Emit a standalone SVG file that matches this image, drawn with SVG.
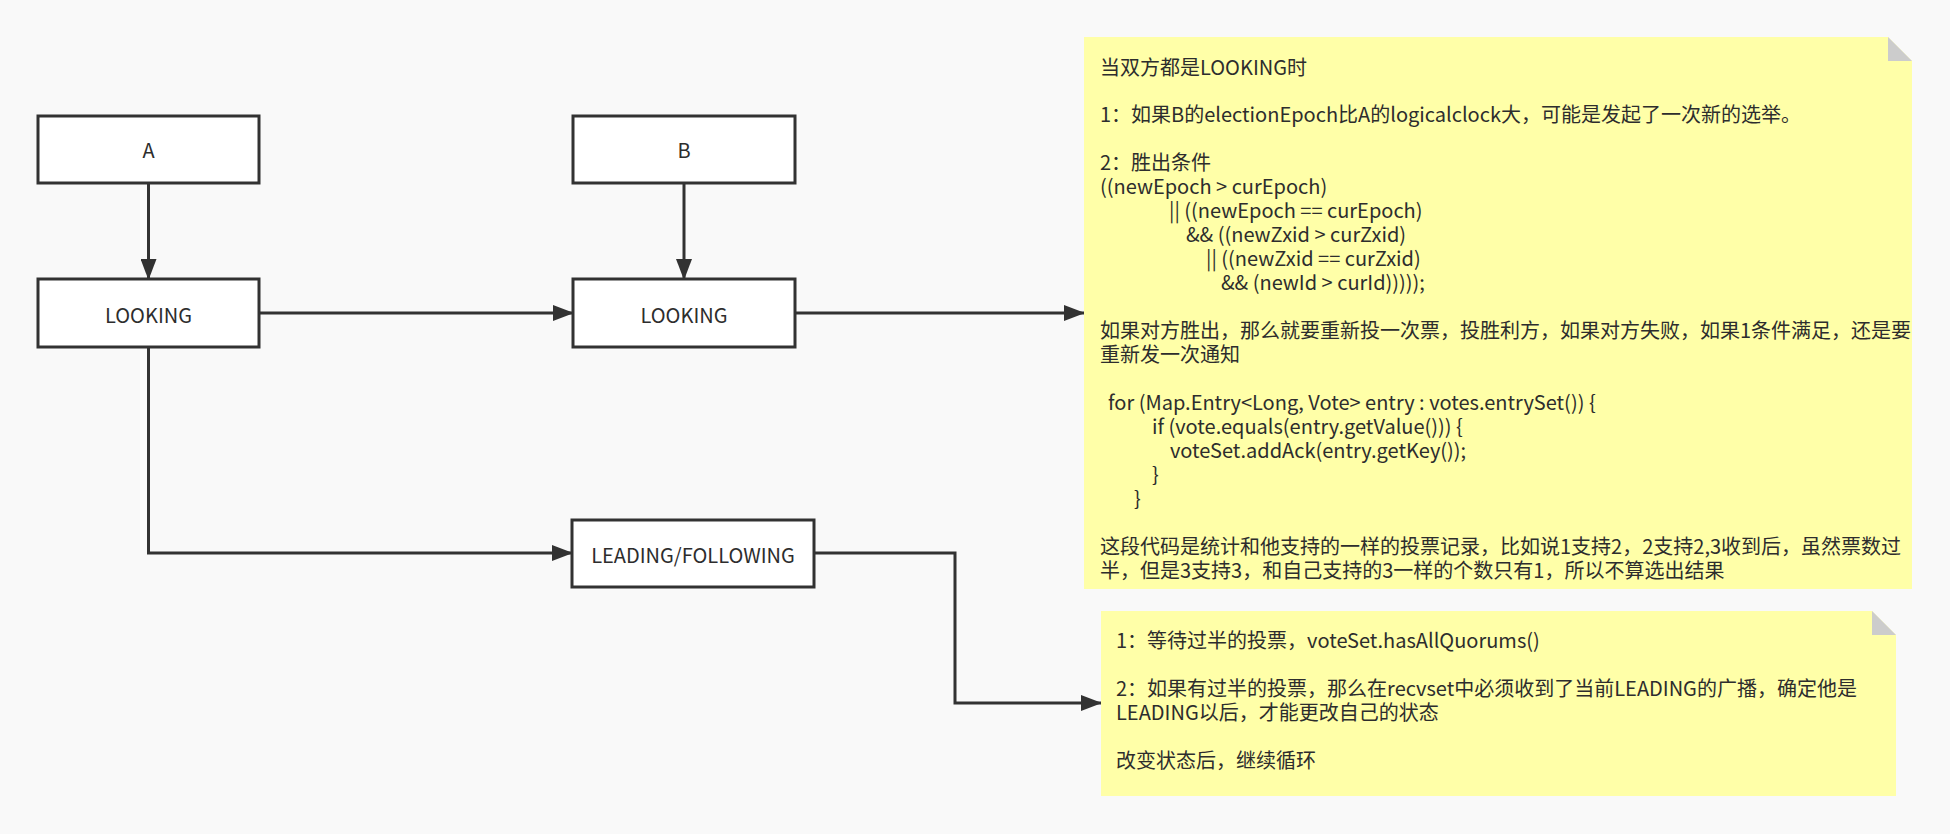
<svg xmlns="http://www.w3.org/2000/svg" width="1950" height="834" viewBox="0 0 1950 834">
<defs>
<marker id="arr" markerWidth="21" markerHeight="16" refX="20" refY="8" orient="auto" markerUnits="userSpaceOnUse">
<path d="M0,0 L21,8 L0,16 Z" fill="#323232"/>
</marker>
<style>
.box{fill:#ffffff;stroke:#323232;stroke-width:3}
.lbl{font-family:"Noto Sans CJK SC","Noto Sans",sans-serif;font-size:20px;fill:#2d2d2d;text-anchor:middle}
.note{fill:#ffffa8}
.fold{fill:#cccccc}
.nt{font-family:"Noto Sans CJK SC","Noto Sans",sans-serif;font-size:20px;fill:#2d2d2d}
.con{fill:none;stroke:#323232;stroke-width:3}
</style>
</defs>
<rect x="0" y="0" width="1950" height="834" fill="#f9f9f9"/>
<g id="connectors">
<path class="con" d="M148.5,183 L148.5,279" marker-end="url(#arr)"/>
<path class="con" d="M684,183 L684,279" marker-end="url(#arr)"/>
<path class="con" d="M259,313 L573,313" marker-end="url(#arr)"/>
<path class="con" d="M795,313 L1084,313" marker-end="url(#arr)"/>
<path class="con" d="M148.5,347 L148.5,553 L572,553" marker-end="url(#arr)"/>
<path class="con" d="M814,553 L955,553 L955,703 L1101,703" marker-end="url(#arr)"/>
</g>
<g id="nodeA">
<rect class="box" x="38" y="116" width="221" height="67"/>
<text class="lbl" x="148.5" y="157.5">A</text>
</g>
<g id="nodeB">
<rect class="box" x="573" y="116" width="222" height="67"/>
<text class="lbl" x="684" y="157.5">B</text>
</g>
<g id="lookingA">
<rect class="box" x="38" y="279" width="221" height="68"/>
<text class="lbl" x="148.5" y="322.5">LOOKING</text>
</g>
<g id="lookingB">
<rect class="box" x="573" y="279" width="222" height="68"/>
<text class="lbl" x="684" y="322.5">LOOKING</text>
</g>
<g id="leading">
<rect class="box" x="572" y="520" width="242" height="67"/>
<text class="lbl" x="693" y="562.5">LEADING/FOLLOWING</text>
</g>
<g id="note1">
<path class="note" d="M1084,37 L1888,37 L1912,61 L1912,589 L1084,589 Z"/>
<path class="fold" d="M1888,37 L1912,61 L1888,61 Z"/>
<text class="nt" x="1100" y="74.5">当双方都是LOOKING时</text>
<text class="nt" x="1100" y="122">1：如果B的electionEpoch比A的logicalclock大，可能是发起了一次新的选举。</text>
<text class="nt" x="1100" y="170">2：胜出条件</text>
<text class="nt" x="1100" y="194">((newEpoch &gt; curEpoch)</text>
<text class="nt" x="1169" y="218">|| ((newEpoch == curEpoch)</text>
<text class="nt" x="1186" y="242">&amp;&amp; ((newZxid &gt; curZxid)</text>
<text class="nt" x="1206" y="266">|| ((newZxid == curZxid)</text>
<text class="nt" x="1221" y="290">&amp;&amp; (newId &gt; curId)))));</text>
<text class="nt" x="1100" y="338">如果对方胜出，那么就要重新投一次票，投胜利方，如果对方失败，如果1条件满足，还是要</text>
<text class="nt" x="1100" y="362">重新发一次通知</text>
<text class="nt" x="1108" y="410">for (Map.Entry&lt;Long, Vote&gt; entry : votes.entrySet()) {</text>
<text class="nt" x="1152" y="434">if (vote.equals(entry.getValue())) {</text>
<text class="nt" x="1170" y="458">voteSet.addAck(entry.getKey());</text>
<text class="nt" x="1152" y="482">}</text>
<text class="nt" x="1134" y="506">}</text>
<text class="nt" x="1100" y="554">这段代码是统计和他支持的一样的投票记录，比如说1支持2，2支持2,3收到后，虽然票数过</text>
<text class="nt" x="1100" y="578">半，但是3支持3，和自己支持的3一样的个数只有1，所以不算选出结果</text>
</g>
<g id="note2">
<path class="note" d="M1101,611 L1872,611 L1896,635 L1896,796 L1101,796 Z"/>
<path class="fold" d="M1872,611 L1896,635 L1872,635 Z"/>
<text class="nt" x="1116" y="648">1：等待过半的投票，voteSet.hasAllQuorums()</text>
<text class="nt" x="1116" y="696">2：如果有过半的投票，那么在recvset中必须收到了当前LEADING的广播，确定他是</text>
<text class="nt" x="1116" y="720">LEADING以后，才能更改自己的状态</text>
<text class="nt" x="1116" y="768">改变状态后，继续循环</text>
</g>
</svg>
